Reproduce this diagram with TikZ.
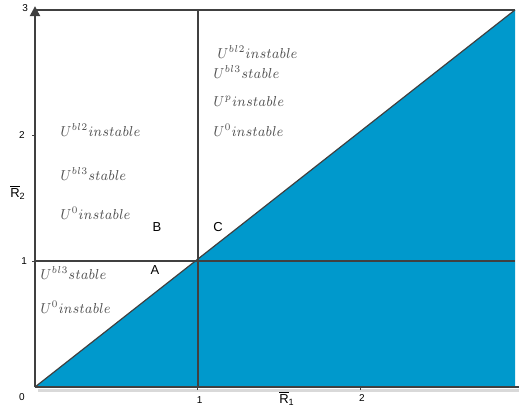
\RequirePackage{fix-cm}
\documentclass[tikz,border=0pt]{standalone}
\usepackage{amsmath}
\usepackage{graphicx}
\usepackage{fontspec}
\setsansfont{Liberation Sans}
\usetikzlibrary{arrows.meta}
\definecolor{fillblue}{RGB}{0,153,204}
\definecolor{axgray}{RGB}{64,64,64}
\definecolor{txtgray}{RGB}{80,80,80}
\newcommand{\regtext}[1]{\scalebox{0.88}[1]{$#1$}}

\begin{document}
\begin{tikzpicture}[x=81.5pt,y=62.85pt,>={Triangle[length=5pt,width=5pt]},
  ax/.style={line width=1.1pt,draw=axgray},
  region/.style={anchor=west,inner sep=0pt,text=txtgray,font=\fontsize{7.2}{8}\selectfont},
  ticklab/.style={inner sep=0pt,font=\sffamily\fontsize{5}{6}\selectfont},
  ptlab/.style={inner sep=0pt,font=\sffamily\fontsize{6.5}{8}\selectfont},
  axlab/.style={inner sep=0pt,font=\fontsize{6.5}{8}\selectfont}]
  \useasboundingbox (-0.2147,-0.183) rectangle (2.9755,3.0788);
  \coordinate (O) at (0,0);
  \coordinate (E) at (2.945,0);
  \coordinate (T) at (2.945,3);
  % shaded region under the diagonal
  \fill[fillblue] (O)--(T)--(E)--cycle;
  \draw[line width=0.6pt,draw=black!75] (O)--(T);
  \draw[line width=1.4pt,draw=black!15] (0.02,-0.03)--(2.97,-0.03);
  \draw[ax] (0,3)--(T);
  \draw[ax] (0,1)--(2.945,1);
  \draw[ax] (1,0)--(1,3);
  \draw[ax,->] (O)--(0,3.03);
  \draw[ax] (O)--(2.97,0);
  \foreach \i in {1,2} {
    \draw[line width=0.5pt,axgray] (\i,0)--(\i,-0.025);
    \draw[line width=0.5pt,axgray] (0,\i)--(-0.02,\i);
  }
  % tick labels
  \node[ticklab] (t0) at (-0.08,-0.08) {0};
  \node[ticklab] (tx1) at (1.01,-0.103) {1};
  \node[ticklab] (tx2) at (2.006,-0.088) {2};
  \node[ticklab] (ty1) at (-0.067,1.0) {1};
  \node[ticklab] (ty2) at (-0.08,2.005) {2};
  \node[ticklab] (ty3) at (-0.061,3.015) {3};
  \node[axlab] (R1) at (1.546,-0.092) {$\overline{\textsf{R}}_{\textsf{1}}$};
  \node[axlab] (R2) at (-0.104,1.551) {$\overline{\textsf{R}}_{\textsf{2}}$};
  % points
  \node[ptlab] (A) at (0.736,0.931) {A};
  \node[ptlab] (B) at (0.748,1.273) {B};
  \node[ptlab] (C) at (1.123,1.273) {C};
  % region texts
  \node[region] (b2l) at (0.153,2.045) {\regtext{U^{bl2}instable}};
  \node[region] (b3l) at (0.153,1.695) {\regtext{U^{bl3}stable}};
  \node[region] (u0l) at (0.153,1.384) {\regtext{U^{0}instable}};
  \node[region] (b2r) at (1.117,2.665) {\regtext{U^{bl2}instable}};
  \node[region] (b3r) at (1.092,2.506) {\regtext{U^{bl3}stable}};
  \node[region] (upr) at (1.092,2.275) {\regtext{U^{p}instable}};
  \node[region] (u0r) at (1.092,2.045) {\regtext{U^{0}instable}};
  \node[region] (b3a) at (0.031,0.907) {\regtext{U^{bl3}stable}};
  \node[region] (u0a) at (0.031,0.636) {\regtext{U^{0}instable}};
\end{tikzpicture}
\end{document}
